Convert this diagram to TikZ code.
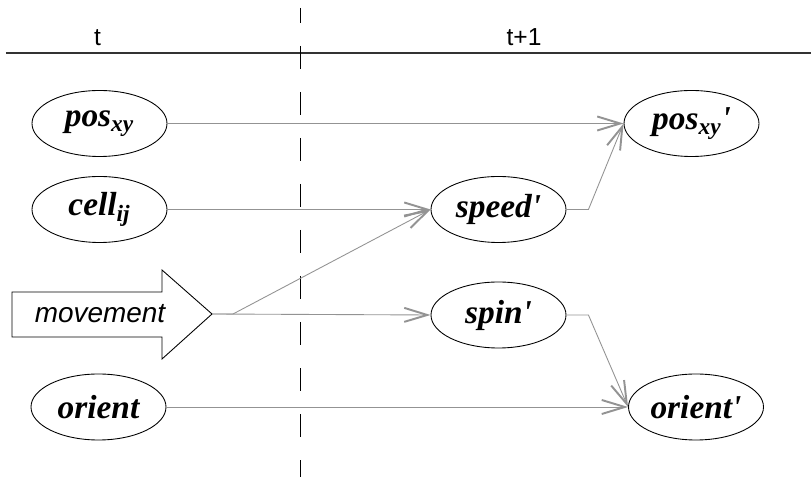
\documentclass[tikz,border=0pt]{standalone}
\usepackage{fontspec}
\setmainfont{Liberation Serif}
\setsansfont{Liberation Sans}
\usepackage{tikz}
\usetikzlibrary{shapes.geometric}
\usetikzlibrary{arrows.meta}
\newcommand{\vname}[1]{\fontsize{19}{22}\selectfont\bfseries\itshape #1}
\newcommand{\nxt}{\textquotesingle}

\begin{document}
\begin{tikzpicture}[scale=1,
  var/.style={ellipse, draw, line width=0.5pt, minimum width=2.7cm, minimum height=1.32cm, inner sep=0pt},
  link/.style={draw=gray!85, line width=0.5pt, -{Straight Barb[length=0.46cm,width=0.28cm,line width=1.1pt]}},
  stamp/.style={font=\fontsize{14}{16}\selectfont\sffamily, anchor=base}]

\useasboundingbox (0,0) rectangle (16.22,-9.54);

\draw[line width=0.7pt, black!80] (0.12,-1.06) -- (16.22,-1.06);
\draw[line width=0.5pt, dash pattern=on 0.46cm off 0.46cm, dash phase=0.16cm] (6.0,-0.16) -- (6.0,-9.54);

\node[stamp] (tnow) at (1.95,-0.92) {t};
\node[stamp] (tnext) at (10.48,-0.92) {t+1};

\node[var] (pos) at (1.99,-2.47) {\vname{pos\textsubscript{xy}}};
\node[var] (cell) at (1.99,-4.19) {\vname{cell\textsubscript{ij}}};
\node[var] (orient) at (1.97,-8.14) {\vname{orient}};

\draw[line width=0.5pt] (0.24,-5.84) -- (3.24,-5.84) -- (3.24,-5.40) -- (4.24,-6.28)
  -- (3.24,-7.18) -- (3.24,-6.74) -- (0.24,-6.74) -- cycle;
\node[font=\fontsize{15.9}{18}\selectfont\sffamily\itshape] (move) at (2.0,-6.28) {movement};
\coordinate (movetip) at (4.24,-6.28);

\node[var] (speed) at (9.97,-4.19) {\vname{speed\nxt}};
\node[var] (spin) at (9.97,-6.30) {\vname{spin\nxt}};
\node[var] (posn) at (13.83,-2.47) {\vname{pos\textsubscript{xy}\nxt}};
\node[var] (orientn) at (13.92,-8.14) {\vname{orient\nxt}};

\draw[link] (pos.east) -- (posn.west);
\draw[link] (cell.east) -- (speed.west);
\draw[link] (movetip) -- ++(0.42,0) -- (speed.west);
\draw[link] (movetip) -- (spin.west);
\draw[link] (speed.east) -- ++(0.44,0) -- (posn.west);
\draw[link] (spin.east) -- ++(0.44,0) -- (orientn.west);
\draw[link] (orient.east) -- (orientn.west);
\end{tikzpicture}
\end{document}
